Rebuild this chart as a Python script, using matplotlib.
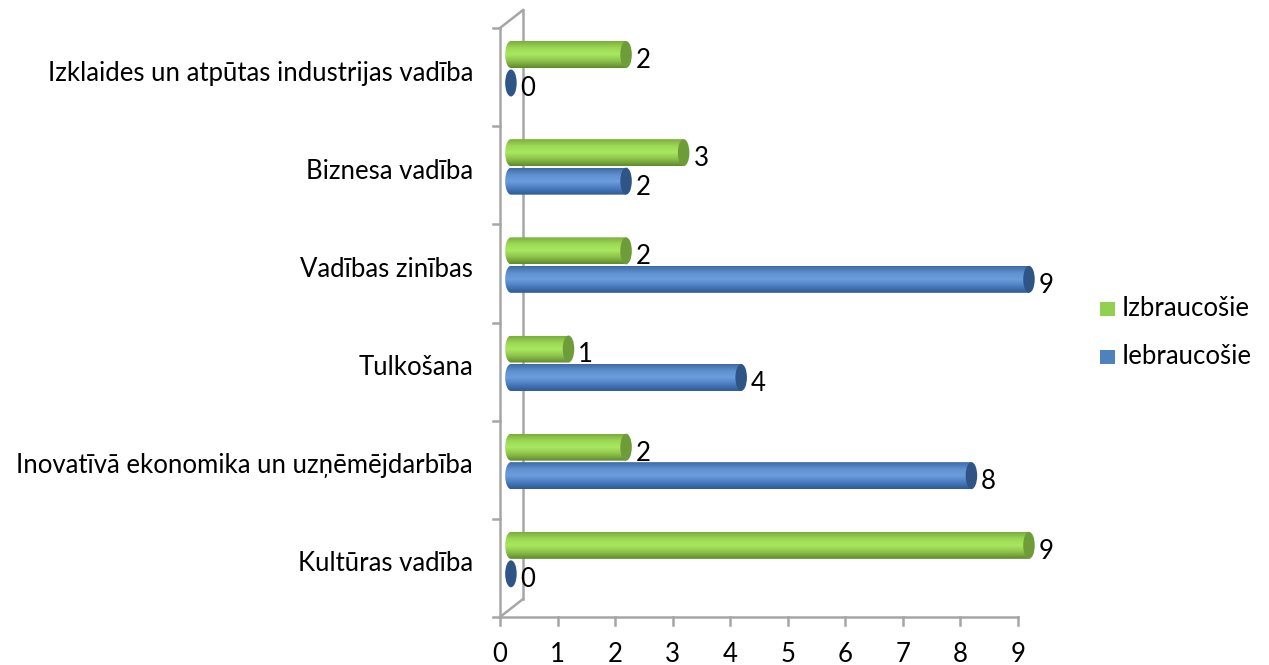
import numpy as np
import matplotlib.pyplot as plt
from matplotlib.patches import Ellipse, Polygon
from matplotlib.colors import LinearSegmentedColormap

plt.rcParams['font.family'] = ['Lato', 'DejaVu Sans']

categories = ["Kultūras vadība", "Inovatīvā ekonomika un uzņēmējdarbība", "Tulkošana",
              "Vadības zinības", "Biznesa vadība", "Izklaides un atpūtas industrijas vadība"]
izbrauc = [9, 2, 1, 2, 3, 2]
iebrauc = [0, 8, 4, 9, 2, 0]
series_names = ["Izbraucošie", "Iebraucošie"]

fs = 18.5
xmax = 9.6  # axes extended past 9 so the bar ends are not clipped

fig = plt.figure(figsize=(12.69, 6.65), dpi=100)
ax = fig.add_axes([500/1269, 1-617/665, 57.56*xmax/1269, 589/665])
ax.set_xlim(0, xmax)
ax.set_ylim(-0.5, 5.5)
for s in ax.spines.values():
    s.set_visible(False)
ax.set_yticks([])
ax.set_xticks([])

gray = "#a6a6a6"
dx, dy = 0.40, 0.183
kw = dict(color=gray, lw=1.8, clip_on=False, zorder=1)
ax.plot([0, 0], [-0.5, 5.5], **kw)
ax.plot([dx, dx], [-0.5+dy, 5.5+dy], **kw)
ax.plot([0, dx], [5.5, 5.5+dy], **kw)
ax.plot([0, dx], [-0.5, -0.5+dy], **kw)
ax.plot([0, 9], [-0.5, -0.5], **kw)
for i in range(10):
    ax.plot([i, i], [-0.5, -0.58], **kw)
    ax.text(i, -0.88, str(i), ha='center', va='center', fontsize=fs)
for k in range(7):
    ax.plot([-0.12, 0], [k-0.5, k-0.5], **kw)
for k, c in enumerate(categories):
    ax.text(-0.47, k+0.04, c, ha='right', va='center', fontsize=fs)

green_cm = LinearSegmentedColormap.from_list("g", ["#5f8a2a", "#8cc04a", "#a8e860", "#9ed856", "#7aae3c"])
blue_cm = LinearSegmentedColormap.from_list("b", ["#2f5a92", "#4a7cc0", "#6c9edc", "#5f90d0", "#3f6aa6"])
grad = np.linspace(0, 1, 64).reshape(-1, 1)

x0 = 0.19
h = 0.275
ew = 0.2

def cylinder(val, yc, cmap, capcol):
    x1 = x0 + val
    if val > 0:
        t = np.linspace(np.pi/2, 3*np.pi/2, 30)
        left = np.column_stack([x0 + ew/2*np.cos(t), yc + h/2*np.sin(t)])
        pts = np.vstack([[x1, yc+h/2], left, [x1, yc-h/2]])
        clip = Polygon(pts, closed=True, transform=ax.transData, fc='none', ec='none')
        ax.add_patch(clip)
        im = ax.imshow(grad, cmap=cmap, aspect='auto', origin='lower',
                       extent=[x0-ew/2, x1, yc-h/2, yc+h/2], zorder=2, interpolation='bilinear')
        im.set_clip_path(clip)
    ax.add_patch(Ellipse((x1, yc), ew, h, fc=capcol, ec='none', zorder=3, clip_on=False))
    ax.text(x1+0.17, yc-0.06, str(val), ha='left', va='center', fontsize=fs)

for k in range(len(categories)):
    cylinder(izbrauc[k], k+0.23, green_cm, "#6e9c38")
    cylinder(iebrauc[k], k-0.06, blue_cm, "#2f5587")

ax.set_xlim(0, xmax)
ax.set_ylim(-0.5, 5.5)

fig.patches.append(plt.Rectangle((1100/1269, 1-316/665), 15/1269, 14/665, fc="#92d050",
                                 transform=fig.transFigure, figure=fig))
fig.patches.append(plt.Rectangle((1100/1269, 1-364/665), 15/1269, 14/665, fc="#4f81bd",
                                 transform=fig.transFigure, figure=fig))
fig.text(1122/1269, 1-309/665, series_names[0], ha='left', va='center', fontsize=fs)
fig.text(1122/1269, 1-357/665, series_names[1], ha='left', va='center', fontsize=fs)

fig.savefig("out.png", dpi=100)
